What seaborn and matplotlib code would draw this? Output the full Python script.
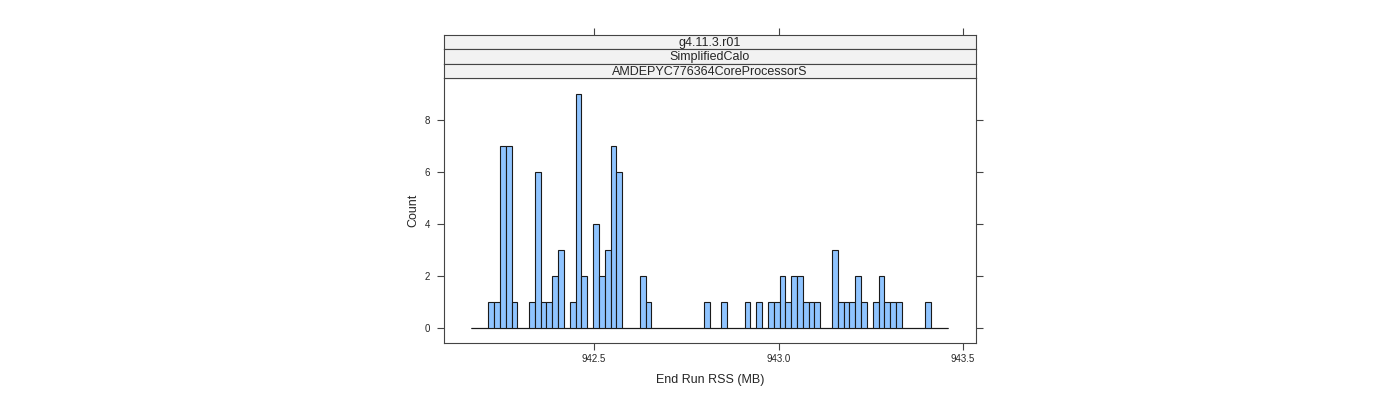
import numpy as np
import pandas as pd
import matplotlib
matplotlib.use("Agg")
import matplotlib.pyplot as plt
import seaborn as sns

# Histogram: 82 equal bins
bin_start = 942.1659
bin_width = 0.01579
counts = [0, 0, 0, 1, 1, 7, 7, 1, 0, 0,
          1, 6, 1, 1, 2, 3, 0, 1, 9, 2,
          0, 4, 2, 3, 7, 6, 0, 0, 0, 2,
          1, 0, 0, 0, 0, 0, 0, 0, 0, 0,
          1, 0, 0, 1, 0, 0, 0, 1, 0, 1,
          0, 1, 1, 2, 1, 2, 2, 1, 1, 1,
          0, 0, 3, 1, 1, 1, 2, 1, 0, 1,
          2, 1, 1, 1, 0, 0, 0, 0, 1, 0,
          0, 0]
strip_labels = ["g4.11.3.r01", "SimplifiedCalo", "AMDEPYC776364CoreProcessorS"]
x_ticks = [942.5, 943.0, 943.5]
y_ticks = [0, 2, 4, 6, 8]

nbins = len(counts)
edges = bin_start + bin_width * np.arange(nbins + 1)
df = pd.DataFrame({"rss": (edges[:-1] + edges[1:]) / 2, "n": counts})

sns.set_style("white")
plt.rcParams["font.family"] = ["Liberation Sans", "DejaVu Sans"]

W, H = 1400, 400
fig = plt.figure(figsize=(14, 4), dpi=100)
left, right = 444.3, 975.7
top_strip, top_panel, bottom = 34.7, 78.2, 343.3
ax = fig.add_axes([left / W, 1 - bottom / H, (right - left) / W, (bottom - top_panel) / H])

# lattice draws empty bins as a flat line along zero
ax.hlines(0, edges[0], edges[-1], color="#1a1a1a", linewidth=0.8, zorder=1)
sns.histplot(data=df, x="rss", weights="n", bins=nbins,
             binrange=(float(edges[0]), float(edges[-1])), ax=ax,
             color="#8FC4FF", edgecolor="#1a1a1a", linewidth=0.8, alpha=1)

edge_col = "#444444"
ax.set_xlim(942.0943, 943.5344)
ax.set_ylim(-0.60, 9.62)
ax.set_xticks(x_ticks)
ax.set_xticklabels([f"{t:.1f}" for t in x_ticks])
ax.set_yticks(y_ticks)
ax.tick_params(axis="both", direction="out", length=5, width=0.8, color=edge_col,
               labelsize=7, pad=3, bottom=True, left=True, right=True, top=False)
ax.tick_params(axis="y", pad=5)
ax.set_xlabel("End Run RSS (MB)", fontsize=9, labelpad=7)
ax.set_ylabel("Count", fontsize=9, labelpad=4)
for s in ax.spines.values():
    s.set_color(edge_col)
    s.set_linewidth(0.8)

# stacked strips on top of the panel
step = (top_panel - top_strip) / 3
for i, lab in enumerate(strip_labels):
    y0 = top_strip + i * step
    sa = fig.add_axes([left / W, 1 - (y0 + step) / H, (right - left) / W, step / H],
                      sharex=ax)
    sa.set_facecolor("#F2F2F2")
    sa.set_yticks([])
    sa.tick_params(axis="x", labelbottom=False, bottom=False, labeltop=False,
                   top=(i == 0), direction="out", length=5, width=0.8, color=edge_col)
    for s in sa.spines.values():
        s.set_color(edge_col)
        s.set_linewidth(0.8)
    sa.text(0.5, 0.45, lab, transform=sa.transAxes, ha="center", va="center",
            fontsize=9)

fig.savefig("out.png", dpi=100)
